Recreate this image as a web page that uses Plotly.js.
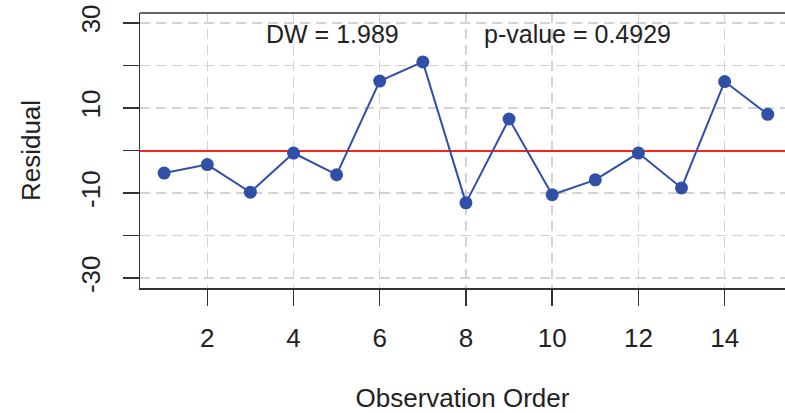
<!DOCTYPE html>
<html>
<head>
<meta charset="utf-8">
<script src="https://cdn.plot.ly/plotly-3.0.1.min.js"></script>
<style>html,body{margin:0;padding:0;overflow:hidden;background:#fff;}</style>
</head>
<body>
<div id="chart" style="width:785px;height:413px;"></div>
<script>
const observationOrder = [1,2,3,4,5,6,7,8,9,10,11,12,13,14,15];
const residuals = [-5.3,-3.3,-9.8,-0.6,-5.7,16.3,20.8,-12.3,7.4,-10.4,-6.9,-0.6,-8.8,16.2,8.5];
const yTickVals = [-30,-20,-10,0,10,20,30];
const yTickText = ["-30","","-10","","10","","30"];
const xTickVals = [2,4,6,8,10,12,14];
const dwLabel = "DW = 1.989";
const pLabel = "p-value = 0.4929";

const font = "Liberation Sans, Arial, sans-serif";

const traces = [
  {
    x: observationOrder,
    y: residuals,
    type: "scatter",
    mode: "lines+markers",
    line: {color: "#3050a8", width: 2},
    marker: {color: "#3050a8", size: 13},
    showlegend: false,
    hoverinfo: "x+y"
  }
];

const layout = {
  width: 785,
  height: 413,
  margin: {l: 139.5, r: 0, t: 12.7, b: 124.7},
  paper_bgcolor: "#fff",
  plot_bgcolor: "#fff",
  font: {family: font, color: "#222"},
  xaxis: {
    range: [0.44, 15.40],
    tickvals: xTickVals,
    ticks: "outside",
    ticklen: 16,
    tickwidth: 1.5,
    tickcolor: "#333",
    showline: true,
    linecolor: "#333",
    linewidth: 1.5,
    showgrid: true,
    gridcolor: "#d3d3d3",
    gridwidth: 1.5,
    griddash: "10px,6px",
    zeroline: false,
    tickfont: {size: 26, color: "#222"},
    ticklabelstandoff: 10,
    title: {text: "Observation Order", font: {size: 26, color: "#222"}, standoff: 40},
    automargin: false
  },
  yaxis: {
    range: [-32.3, 32.3],
    tickvals: yTickVals,
    ticktext: yTickText,
    tickangle: -90,
    ticks: "outside",
    ticklen: 16,
    tickwidth: 1.5,
    tickcolor: "#333",
    showline: true,
    linecolor: "#333",
    linewidth: 1.5,
    showgrid: true,
    gridcolor: "#d3d3d3",
    gridwidth: 1.5,
    griddash: "10px,6px",
    zeroline: true,
    zerolinecolor: "#ff2020",
    zerolinewidth: 2,
    tickfont: {size: 26, color: "#222"},
    ticklabelstandoff: 12,
    title: {text: "Residual", font: {size: 26, color: "#222"}, standoff: 28},
    automargin: false
  },
  shapes: [
    {type: "line", xref: "paper", yref: "paper", x0: 0, x1: 1, y0: 1, y1: 1,
     line: {color: "#333", width: 1.5}}
  ],
  annotations: [
    {x: 4.9, y: 27.4, xref: "x", yref: "y", text: dwLabel, showarrow: false,
     font: {size: 25, color: "#222"}, xanchor: "center", yanchor: "middle"},
    {x: 10.59, y: 27.4, xref: "x", yref: "y", text: pLabel, showarrow: false,
     font: {size: 25, color: "#222"}, xanchor: "center", yanchor: "middle"}
  ]
};

Plotly.newPlot("chart", traces, layout, {displayModeBar: false, staticPlot: true});
</script>
</body>
</html>
